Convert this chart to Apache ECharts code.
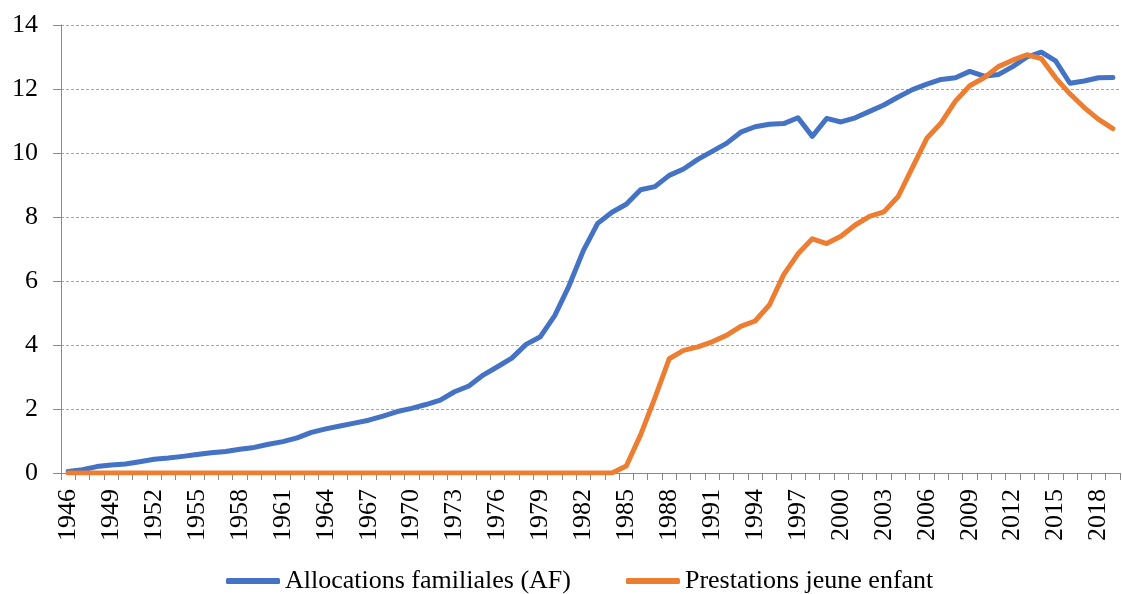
<!DOCTYPE html>
<html>
<head>
<meta charset="utf-8">
<script src="https://cdn.jsdelivr.net/npm/echarts@6/dist/echarts.min.js"></script>
<style>
  html, body { margin: 0; padding: 0; background: #fff; }
  #chart { width: 1122px; height: 594px; }
</style>
</head>
<body>
<div id="chart"></div>
<script>
// années 1946 - 2019
const years = []
for (let y = 1946; y <= 2019; y++) years.push(String(y))

// Allocations familiales (AF)
const afValues = [
  0.05, 0.1, 0.2, 0.25, 0.28, 0.35, 0.43, 0.47, 0.52, 0.58,
  0.63, 0.67, 0.74, 0.8, 0.9, 0.98, 1.1, 1.27, 1.38, 1.47,
  1.56, 1.65, 1.78, 1.92, 2.02, 2.14, 2.28, 2.54, 2.72, 3.06,
  3.32, 3.59, 4.02, 4.26, 4.92, 5.85, 6.95, 7.8, 8.15, 8.4,
  8.85, 8.95, 9.3, 9.5, 9.8, 10.05, 10.3, 10.65, 10.82, 10.9,
  10.92, 11.1, 10.52, 11.08, 10.97, 11.1, 11.3, 11.5, 11.75, 11.98,
  12.15, 12.3, 12.35, 12.55, 12.4, 12.45, 12.7, 13.0, 13.15, 12.88,
  12.18, 12.25, 12.35, 12.36
]

// Prestations jeune enfant
const pjeValues = [
  0, 0, 0, 0, 0, 0, 0, 0, 0, 0,
  0, 0, 0, 0, 0, 0, 0, 0, 0, 0,
  0, 0, 0, 0, 0, 0, 0, 0, 0, 0,
  0, 0, 0, 0, 0, 0, 0, 0, 0, 0.22,
  1.19, 2.35, 3.57, 3.83, 3.94, 4.1, 4.3, 4.58, 4.75, 5.25,
  6.2, 6.85, 7.32, 7.17, 7.4, 7.75, 8.02, 8.16, 8.64, 9.55,
  10.46, 10.94, 11.62, 12.1, 12.35, 12.7, 12.9, 13.07, 12.95, 12.35,
  11.85, 11.42, 11.05, 10.76
]

const yTicks = [0, 2, 4, 6, 8, 10, 12, 14]

const serif = "'Liberation Serif', 'Times New Roman', serif"

const chart = echarts.init(document.getElementById('chart'))

chart.setOption({
  animation: false,
  textStyle: { fontFamily: serif },
  grid: {
    left: 61,
    right: 2,
    top: 25,
    bottom: 121
  },
  legend: {
    top: 563,
    left: 221,
    itemWidth: 54,
    itemHeight: 6,
    itemGap: 55,
    icon: 'roundRect',
    textStyle: {
      fontFamily: serif,
      fontSize: 26,
      color: '#000'
    },
    data: ['Allocations familiales (AF)', 'Prestations jeune enfant']
  },
  xAxis: {
    type: 'category',
    data: years,
    boundaryGap: true,
    axisLine: { lineStyle: { color: '#898989', width: 1 } },
    axisTick: {
      show: true,
      interval: 0,
      length: 7,
      lineStyle: { color: '#898989' }
    },
    axisLabel: {
      interval: 2,
      rotate: 90,
      margin: 16,
      fontFamily: serif,
      fontSize: 26,
      color: '#000'
    },
    splitLine: { show: false }
  },
  yAxis: {
    type: 'value',
    min: yTicks[0],
    max: yTicks[yTicks.length - 1],
    interval: 2,
    axisLine: { show: true, lineStyle: { color: '#898989', width: 1 } },
    axisTick: { show: true, length: 8, lineStyle: { color: '#898989' } },
    axisLabel: {
      margin: 23,
      fontFamily: serif,
      fontSize: 26,
      color: '#000'
    },
    splitLine: {
      show: true,
      lineStyle: { color: '#a6a6a6', type: [3, 2], width: 1 }
    }
  },
  series: [
    {
      name: 'Allocations familiales (AF)',
      type: 'line',
      data: afValues,
      showSymbol: false,
      symbol: 'none',
      lineStyle: { color: '#4472C4', width: 5, cap: 'round', join: 'round' },
      itemStyle: { color: '#4472C4' }
    },
    {
      name: 'Prestations jeune enfant',
      type: 'line',
      data: pjeValues,
      showSymbol: false,
      symbol: 'none',
      lineStyle: { color: '#ED7D31', width: 5, cap: 'round', join: 'round' },
      itemStyle: { color: '#ED7D31' }
    }
  ]
})
</script>
</body>
</html>
